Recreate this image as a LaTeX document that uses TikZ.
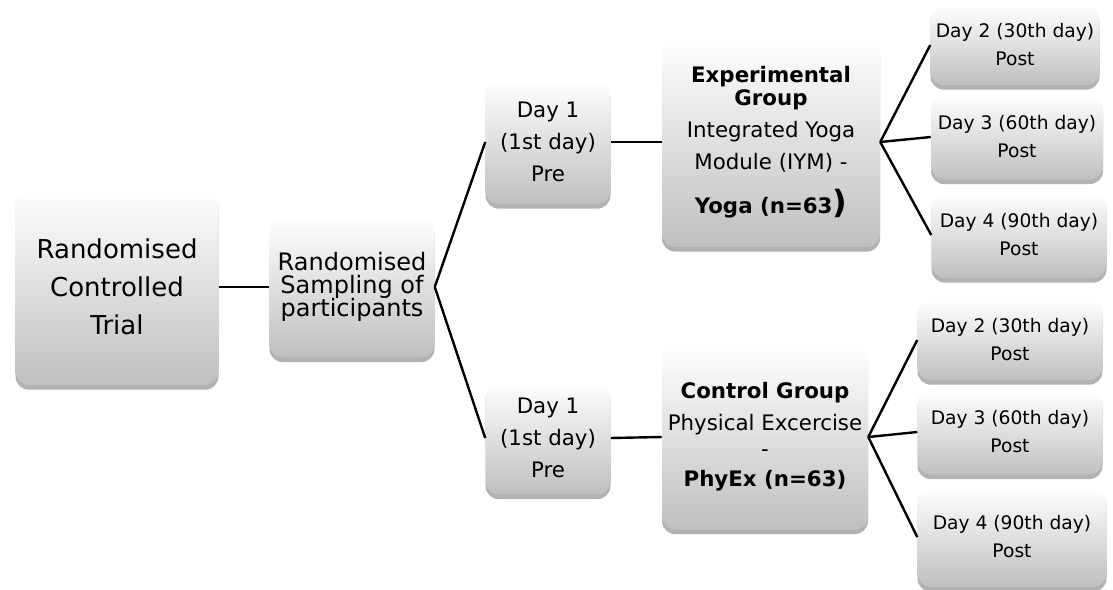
\documentclass[tikz,border=0pt]{standalone}
\usepackage{fontspec}
\setmainfont{DejaVu Sans}
\usetikzlibrary{shadows}

\begin{document}
\begin{tikzpicture}[x=0.75pt, y=-0.75pt,
box/.style={rectangle, rounded corners=10pt, align=center, inner sep=2pt,
  top color=white, middle color=black!2, bottom color=black!25,
  drop shadow={shadow xshift=0pt, shadow yshift=-3.5pt, opacity=0.5, fill=black!60}},
post/.style={box, font=\fontsize{14}{21}\selectfont}]
\useasboundingbox (0,0) rectangle (1113,589);

\node[box, minimum width=152.25pt, minimum height=147pt,
  font=\fontsize{19.5}{28.5}\selectfont] (rct) at (117,287)
  {Randomised\\Controlled\\Trial};
\node[box, minimum width=123.75pt, minimum height=105.75pt,
  font=\fontsize{18}{17.5}\selectfont] (samp) at (352,287)
  {Randomised\\Sampling of\\participants};
\node[box, minimum width=93.75pt, minimum height=93pt,
  font=\fontsize{16}{23.75}\selectfont] (pre1) at (548,142)
  {Day 1\\(1st day)\\Pre};
\node[box, minimum width=93.75pt, minimum height=84.75pt,
  font=\fontsize{16}{23.75}\selectfont] (pre2) at (548,438)
  {Day 1\\(1st day)\\Pre};
\node[box, minimum width=163.5pt, minimum height=157.5pt,
  font=\fontsize{16}{17.5}\selectfont] (exp) at (771,142)
  {\textbf{Experimental}\\\textbf{Group}\\[6.5pt]Integrated Yoga\\[6.5pt]
   Module (IYM) -\\[11pt]\textbf{Yoga (n=63}{\fontsize{24}{17.5}\selectfont\textbf{)}}};
\node[box, minimum width=154.5pt, minimum height=138.75pt,
  font=\fontsize{16}{20}\selectfont] (ctl) at (765,437)
  {\textbf{Control Group}\\[3.75pt]Physical Excercise\\-\\[2.5pt]
   \textbf{PhyEx (n=63)}};

\node[post, minimum width=126.75pt, minimum height=60pt] (e2) at (1015,45)
  {Day 2 (30th day)\\Post};
\node[post, minimum width=129pt, minimum height=63.75pt] (e3) at (1017,137)
  {Day 3 (60th day)\\Post};
\node[post, minimum width=131.25pt, minimum height=64.5pt] (e4) at (1019,235)
  {Day 4 (90th day)\\Post};
\node[post, minimum width=138.75pt, minimum height=60pt] (c2) at (1010,340)
  {Day 2 (30th day)\\Post};
\node[post, minimum width=138.75pt, minimum height=63.75pt] (c3) at (1010,432)
  {Day 3 (60th day)\\Post};
\node[post, minimum width=141.75pt, minimum height=75pt] (c4) at (1012,537)
  {Day 4 (90th day)\\Post};

\path[line width=1.8pt]
(rct.east) edge (samp.west)
(samp.east) edge (pre1.west)
            edge (pre2.west)
(pre1.east) edge (exp.west)
(pre2.east) edge (ctl.west)
(exp.east) edge (e2.west)
           edge (e3.west)
           edge (e4.west)
(ctl.east) edge (c2.west)
           edge (c3.west)
           edge (c4.west);
\end{tikzpicture}
\end{document}
